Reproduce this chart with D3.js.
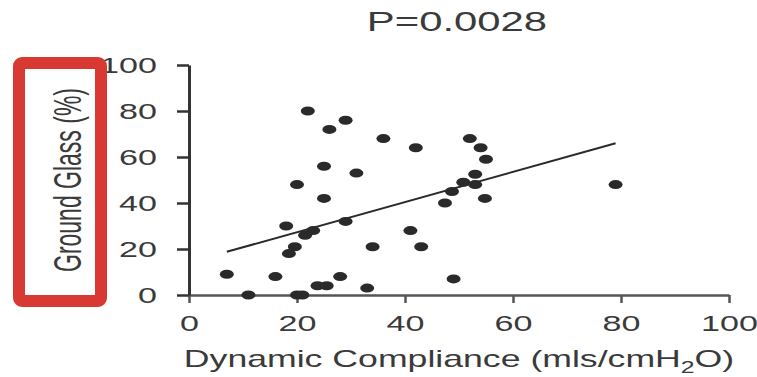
<!DOCTYPE html>
<html>
<head>
<meta charset="utf-8">
<script src="https://cdn.jsdelivr.net/npm/d3@7"></script>
<style>
  body { margin: 0; background: #fff; }
  svg { display: block; font-family: "Liberation Sans", Arial, sans-serif; }
</style>
</head>
<body>
<svg width="757" height="377"></svg>
<script>
// values
const compliance = [22, 29, 26, 36, 25, 31, 20, 25, 29, 18, 21.5, 23, 19.6, 18.5, 34, 7, 16, 28, 23.8, 25.5, 33, 11, 20, 21,
  42, 52, 54, 55, 53, 50.8, 53, 48.7, 47.4, 54.8, 41, 43, 49, 79];
const groundGlass = [80, 76, 72, 68, 56, 53, 48, 42, 32, 30, 26, 28, 21, 18, 21, 9, 8, 8, 4, 4, 3, 0, 0, 0,
  64, 68, 64, 59, 52.5, 49, 48, 45, 40, 42, 28, 21, 7, 48];
const fitCompliance = [7, 79];
const fitGroundGlass = [18.8, 66];
const xTicks = [0, 20, 40, 60, 80, 100];
const yTicks = [0, 20, 40, 60, 80, 100];

const SX = 1.55; // the original figure is stretched sideways
const ink = '#2a2a2a';
const textCol = '#3a3a3a';

const svg = d3.select('svg');

const x = d3.scaleLinear().domain([0, 100]).range([189, 729]);
const y = d3.scaleLinear().domain([0, 100]).range([295, 65]);

// axes
const gx = svg.append('g')
  .attr('transform', `translate(0,${y(0)})`)
  .call(d3.axisBottom(x).tickValues(xTicks).tickSize(8).tickSizeOuter(0));
gx.select('.domain').attr('stroke', '#555').attr('stroke-width', 2.5);
gx.selectAll('.tick line').attr('stroke', '#555').attr('stroke-width', 2.5);
gx.selectAll('.tick text')
  .attr('y', 20)
  .attr('fill', textCol)
  .style('font-size', '22px')
  .attr('transform', `scale(${SX},1)`);

const gy = svg.append('g')
  .attr('transform', `translate(${x(0)},0)`)
  .call(d3.axisLeft(y).tickValues(yTicks).tickSize(12).tickSizeOuter(0));
gy.select('.domain').attr('stroke', '#333').attr('stroke-width', 3);
gy.selectAll('.tick line').attr('stroke', '#333').attr('stroke-width', 2.5);
gy.selectAll('.tick text')
  .attr('x', -32 / SX)
  .attr('fill', textCol)
  .style('font-size', '22px')
  .attr('transform', `scale(${SX},1)`);

svg.selectAll('.domain, .tick line').attr('shape-rendering', 'auto');

// regression line
const line = d3.line().x((d) => x(d[0])).y((d) => y(d[1]));
svg.append('path')
  .datum(d3.zip(fitCompliance, fitGroundGlass))
  .attr('d', line)
  .attr('fill', 'none')
  .attr('stroke', ink)
  .attr('stroke-width', 2);

// points
svg.selectAll('ellipse.pt')
  .data(d3.zip(compliance, groundGlass))
  .enter()
  .append('ellipse')
  .attr('class', 'pt')
  .attr('cx', (d) => x(d[0]))
  .attr('cy', (d) => y(d[1]))
  .attr('rx', 7)
  .attr('ry', 4.5)
  .attr('fill', ink);

// title
svg.append('text')
  .attr('transform', `translate(457,31) scale(${SX},1)`)
  .attr('text-anchor', 'middle')
  .attr('fill', textCol)
  .style('font-size', '27px')
  .text('P=0.0028');

// x axis title with subscript
const xt = svg.append('text')
  .attr('transform', `translate(459,367) scale(${SX},1)`)
  .attr('text-anchor', 'middle')
  .attr('fill', textCol)
  .style('font-size', '23px');
xt.append('tspan').text('Dynamic Compliance (mls/cmH');
xt.append('tspan').attr('dy', 6).style('font-size', '16px').text('2');
xt.append('tspan').attr('dy', -6).text('O)');

// y axis title
svg.append('text')
  .attr('transform', 'translate(81,180) scale(1.7,1) rotate(-90)')
  .attr('text-anchor', 'middle')
  .attr('fill', textCol)
  .style('font-size', '23px')
  .text('Ground Glass (%)');

// red highlight box round the y title
svg.append('rect')
  .attr('x', 19)
  .attr('y', 63)
  .attr('width', 82)
  .attr('height', 238)
  .attr('rx', 3)
  .attr('fill', 'none')
  .attr('stroke', '#d83a33')
  .attr('stroke-width', 12);
</script>
</body>
</html>
